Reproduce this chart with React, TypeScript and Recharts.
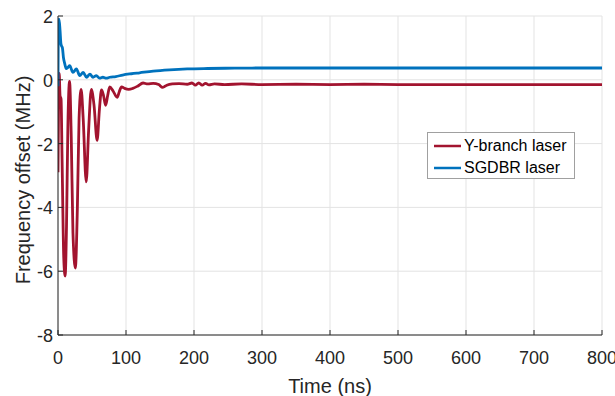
import React from "react";
import { LineChart, Line, XAxis, YAxis, CartesianGrid } from "recharts";

const yBranchTime = [0, 1, 1.8, 3, 4.5, 6, 8.5, 10.5, 12.5, 14.5, 17, 19.5, 22, 25.5, 28.5, 31, 34, 37, 41.5, 45, 49, 53, 57.5, 61, 64, 67, 70, 73, 76, 81, 87, 90, 93.5, 98, 104, 110, 117, 125, 132, 140, 148, 154, 160, 168, 178, 190, 197, 202, 207, 212, 217, 222, 230, 245, 270, 300, 350, 400, 450, 500, 550, 600, 650, 700, 750, 800];
const yBranchOffset = [-2.9, -0.3, 0.2, -0.5, -0.6, -2.5, -5.6, -6.15, -4.6, -1.5, -0.05, -1.8, -4.8, -5.9, -4.0, -1.2, -0.3, -1.2, -3.2, -1.6, -0.3, -0.8, -1.9, -0.9, -0.32, -0.5, -0.8, -0.5, -0.22, -0.35, -0.55, -0.38, -0.22, -0.27, -0.3, -0.27, -0.2, -0.1, -0.13, -0.11, -0.15, -0.24, -0.17, -0.13, -0.12, -0.14, -0.1, -0.17, -0.1, -0.17, -0.11, -0.16, -0.13, -0.15, -0.13, -0.15, -0.14, -0.15, -0.14, -0.15, -0.15, -0.15, -0.15, -0.15, -0.15, -0.15];

const sgdbrTime = [0, 0.5, 1.5, 3, 4.2, 5, 6.5, 8, 10, 12, 14.7, 17.2, 22, 27, 32, 37, 42, 47, 51.5, 56.4, 61, 66, 71, 76, 85, 95, 108, 120, 140, 164, 190, 220, 260, 300, 400, 500, 600, 700, 800];
const sgdbrOffset = [-0.2, 1.8, 1.9, 1.55, 1.15, 1.07, 1.0, 0.7, 0.5, 0.35, 0.39, 0.44, 0.23, 0.34, 0.13, 0.23, 0.08, 0.18, 0.08, 0.13, 0.05, 0.08, 0.05, 0.08, 0.1, 0.15, 0.19, 0.22, 0.27, 0.31, 0.34, 0.355, 0.365, 0.37, 0.37, 0.37, 0.37, 0.37, 0.37];

const xTicks = [0, 100, 200, 300, 400, 500, 600, 700, 800];
const yTicks = [-8, -6, -4, -2, 0, 2];

const seriesNames = ["Y-branch laser", "SGDBR laser"];
const seriesColors = ["#A2142F", "#0072BD"];
const xLabel = "Time (ns)";
const yLabel = "Frequency offset (MHz)";

const yBranchData = yBranchTime.map((t, i) => ({ t, v: yBranchOffset[i] }));
const sgdbrData = sgdbrTime.map((t, i) => ({ t, v: sgdbrOffset[i] }));

const FONT = "'Liberation Sans', Arial, Helvetica, sans-serif";
const AXIS = "#262626";

const XTick = (props: any) => {
  const { x, y, payload } = props;
  return (
    <g>
      <line x1={x} x2={x} y1={y} y2={y - 5} stroke={AXIS} strokeWidth={1} />
      <text x={x} y={y + 23} textAnchor="middle" dominantBaseline="central" fontSize={18} fontFamily={FONT} fill={AXIS}>
        {payload.value}
      </text>
    </g>
  );
};

const YTick = (props: any) => {
  const { x, y, payload } = props;
  return (
    <g>
      <line x1={x} x2={x + 5} y1={y} y2={y} stroke={AXIS} strokeWidth={1} />
      <text x={x - 5} y={y + 1} textAnchor="end" dominantBaseline="central" fontSize={18} fontFamily={FONT} fill={AXIS}>
        {payload.value}
      </text>
    </g>
  );
};

const YLabel = () => (
  <text
    x={23}
    y={180}
    transform="rotate(-90 23 180)"
    textAnchor="middle"
    dominantBaseline="central"
    fontSize={20}
    fontFamily={FONT}
    fill={AXIS}
  >
    {yLabel}
  </text>
);

const LegendBox = () => (
  <div
    style={{
      position: "absolute",
      left: 427,
      top: 132,
      width: 146,
      height: 45,
      border: "1px solid #a0a0a0",
      background: "#fff",
      fontFamily: FONT,
      fontSize: 16,
      color: "#000",
      boxSizing: "content-box",
    }}
  >
    {seriesNames.map((n, i) => (
      <div key={n} style={{ display: "flex", alignItems: "center", height: 22, marginTop: i === 0 ? 2 : 0 }}>
        <svg width={36} height={10} style={{ display: "block" }}>
          <line x1={6} x2={33} y1={5} y2={5} stroke={seriesColors[i]} strokeWidth={2.5} />
        </svg>
        <span style={{ lineHeight: "22px" }}>{n}</span>
      </div>
    ))}
  </div>
);

export default function App() {
  return (
    <div style={{ position: "absolute", left: 0, top: 0, width: 615, height: 396, background: "#fff" }}>
      <LineChart width={615} height={396} margin={{ top: 16, right: 13, bottom: 11, left: 0 }}>
        <CartesianGrid stroke="#e3e3e3" strokeWidth={1} vertical horizontal />
        <XAxis
          type="number"
          dataKey="t"
          domain={[0, 800]}
          ticks={xTicks}
          allowDataOverflow
          height={50}
          tickSize={0}
          tickMargin={0}
          tickLine={false}
          axisLine={{ stroke: AXIS, strokeWidth: 1 }}
          tick={<XTick />}
          interval={0}
          label={{ value: xLabel, position: "insideBottom", offset: -8, fontSize: 20, fontFamily: FONT, fill: AXIS }}
        />
        <YAxis
          type="number"
          dataKey="v"
          domain={[-8, 2]}
          ticks={yTicks}
          allowDataOverflow
          width={58}
          tickSize={0}
          tickMargin={0}
          tickLine={false}
          axisLine={{ stroke: AXIS, strokeWidth: 1 }}
          tick={<YTick />}
          interval={0}
          label={<YLabel />}
        />
        <Line
          data={yBranchData}
          dataKey="v"
          name={seriesNames[0]}
          type="monotone"
          stroke={seriesColors[0]}
          strokeWidth={2.8}
          dot={false}
          isAnimationActive={false}
        />
        <Line
          data={sgdbrData}
          dataKey="v"
          name={seriesNames[1]}
          type="monotone"
          stroke={seriesColors[1]}
          strokeWidth={2.8}
          dot={false}
          isAnimationActive={false}
        />
      </LineChart>
      <LegendBox />
    </div>
  );
}
